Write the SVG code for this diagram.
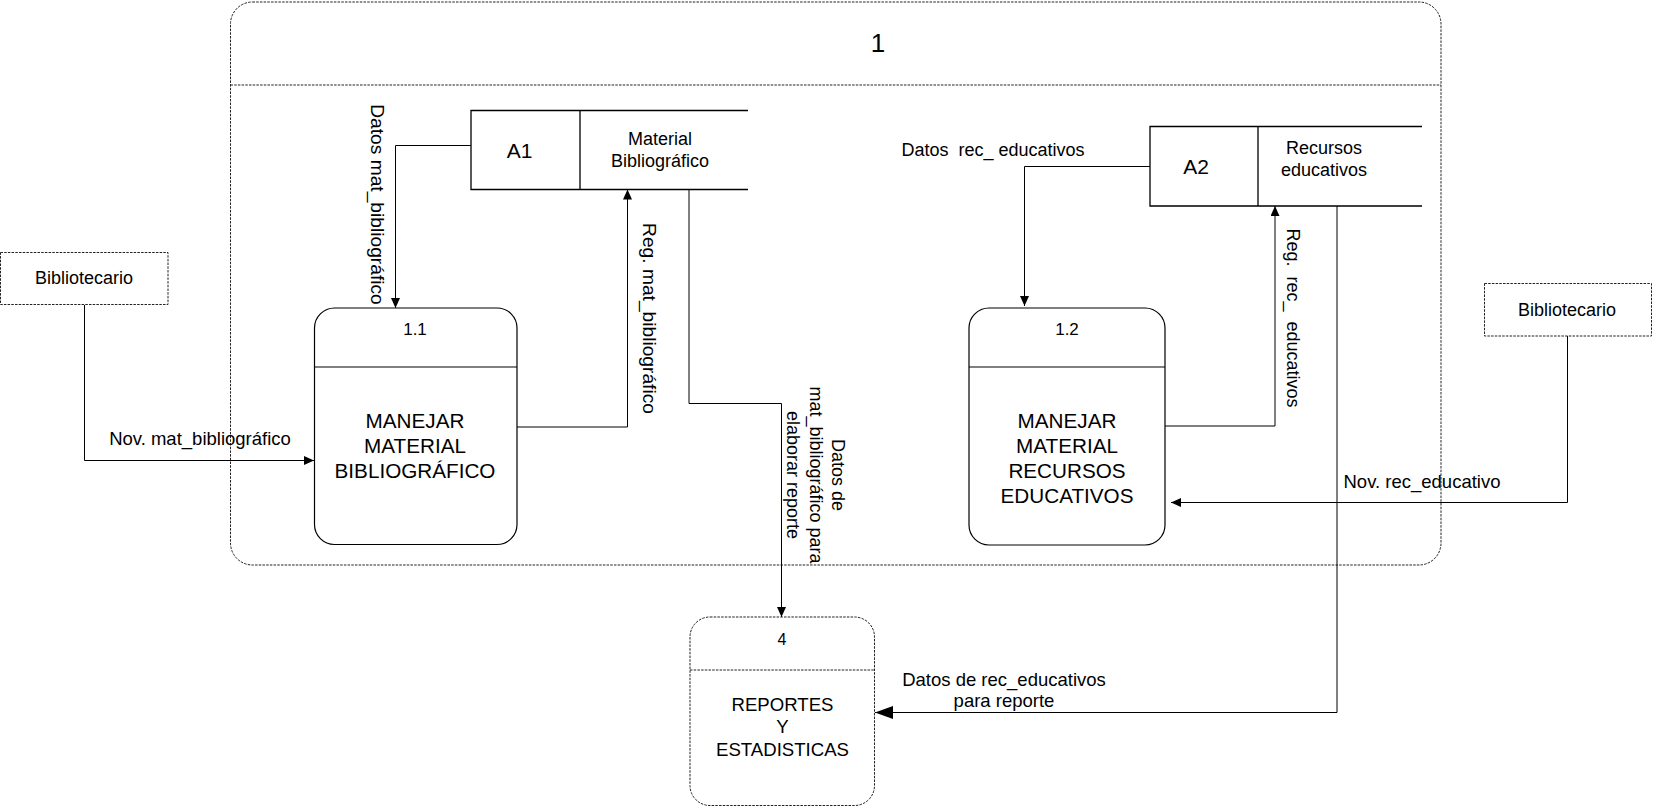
<svg xmlns="http://www.w3.org/2000/svg" width="1653" height="807" viewBox="0 0 1653 807">
<style>
text{font-family:"Liberation Sans",Arial,sans-serif;fill:#000}
.lbl{font-size:18px}
.lbl185{font-size:18.5px}
.lblv{font-size:19.2px}
.mid{text-anchor:middle}
.pre{white-space:pre}
.dash{fill:#fff;stroke:#222;stroke-width:1;stroke-dasharray:2.5,1.2}
.dashline{fill:none;stroke:#222;stroke-width:1;stroke-dasharray:2.5,1.2}
.proc{fill:#fff;stroke:#000;stroke-width:1.2}
.store{fill:none;stroke:#000;stroke-width:1.3}
.conn{fill:none;stroke:#000;stroke-width:1}
.big{font-size:20.7px}
.p4{font-size:18.6px}
</style>
<defs>
<marker id="arr" markerUnits="userSpaceOnUse" markerWidth="12" markerHeight="10" refX="10" refY="4.5" orient="auto">
<path d="M0,0 L10,4.5 L0,9 Z" fill="#000"/>
</marker>
<marker id="arrBig" markerUnits="userSpaceOnUse" markerWidth="20" markerHeight="14" refX="18" refY="6.5" orient="auto">
<path d="M0,0 L18,6.5 L0,13 Z" fill="#000"/>
</marker>
</defs>
<rect width="1653" height="807" fill="#fff"/>

<g id="container-1">
<rect class="dash" x="230.5" y="2" width="1210.5" height="563" rx="22" ry="22"/>
<line class="dashline" x1="230.5" y1="85" x2="1441" y2="85"/>
<text x="878" y="52" class="mid" font-size="26">1</text>
</g>

<g id="connectors">
<path class="conn" d="M84.5 305 V460.5 H314" marker-end="url(#arr)"/>
<path class="conn" d="M471 145.5 H395.5 V308" marker-end="url(#arr)"/>
<path class="conn" d="M517 427 H627.5 V189.5" marker-end="url(#arr)"/>
<path class="conn" d="M689 189.5 V403.5 H781.5 V617" marker-end="url(#arr)"/>
<path class="conn" d="M1150 166.5 H1024.5 V306" marker-end="url(#arr)"/>
<path class="conn" d="M1165 426 H1275 V206" marker-end="url(#arr)"/>
<path class="conn" d="M1337 206 V712.5 H875" marker-end="url(#arrBig)"/>
<path class="conn" d="M1567.5 336 V502.5 H1171" marker-end="url(#arr)"/>
<text class="lbl185 mid" x="200" y="445">Nov. mat_bibliográfico</text>
<text class="lblv mid" transform="translate(371,204.5) rotate(90)">Datos mat_bibliográfico</text>
<text class="lblv mid" transform="translate(643,318.5) rotate(90)">Reg. mat_bibliográfico</text>
<text class="lbl mid" transform="translate(832,475) rotate(90)"><tspan x="0" y="0">Datos de</tspan><tspan x="0" y="22.5">mat_bibliográfico para</tspan><tspan x="0" y="45">elaborar reporte</tspan></text>
<text class="lbl mid pre" x="993" y="156">Datos  rec_ educativos</text>
<text class="lbl mid pre" transform="translate(1287,318) rotate(90)">Reg.  rec_  educativos</text>
<text class="lbl185 mid" x="1422" y="488">Nov. rec_educativo</text>
<text class="lbl185 mid" x="1004" y="686">Datos de rec_educativos</text>
<text class="lbl185 mid" x="1004" y="707">para reporte</text>
</g>

<g id="ext-bibliotecario-1">
<rect class="dash" x="0.5" y="252.5" width="167.5" height="52"/>
<text class="lbl mid" x="84" y="284">Bibliotecario</text>
</g>

<g id="ext-bibliotecario-2">
<rect class="dash" x="1484.5" y="283.5" width="167" height="52.5"/>
<text class="lbl mid" x="1567" y="316">Bibliotecario</text>
</g>

<g id="store-A1">
<path class="store" d="M748 110.5 H471 V189.5 H748 M580 110.5 V189.5"/>
<text x="519.5" y="157.5" class="mid" font-size="21">A1</text>
<text class="lbl mid" x="660" y="145">Material</text>
<text class="lbl mid" x="660" y="166.5">Bibliográfico</text>
</g>

<g id="store-A2">
<path class="store" d="M1422 126.5 H1150 V206 H1422 M1258 126.5 V206"/>
<text x="1196" y="174" class="mid" font-size="21">A2</text>
<text class="lbl mid" x="1324" y="154">Recursos</text>
<text class="lbl mid" x="1324" y="176">educativos</text>
</g>

<g id="proc-1-1">
<rect class="proc" x="314.5" y="308" width="202.5" height="236.5" rx="20" ry="20"/>
<line class="proc" x1="314.5" y1="367" x2="517" y2="367"/>
<text x="415" y="335" class="mid" font-size="17">1.1</text>
<text class="big mid" x="415" y="428">MANEJAR</text>
<text class="big mid" x="415" y="453">MATERIAL</text>
<text class="big mid" x="415" y="478">BIBLIOGRÁFICO</text>
</g>

<g id="proc-1-2">
<rect class="proc" x="969" y="308" width="196" height="237" rx="20" ry="20"/>
<line class="proc" x1="969" y1="367" x2="1165" y2="367"/>
<text x="1067" y="335" class="mid" font-size="17">1.2</text>
<text class="big mid" x="1067" y="428">MANEJAR</text>
<text class="big mid" x="1067" y="453">MATERIAL</text>
<text class="big mid" x="1067" y="478">RECURSOS</text>
<text class="big mid" x="1067" y="503">EDUCATIVOS</text>
</g>

<g id="proc-4">
<rect class="dash" x="690" y="617" width="184.5" height="188.5" rx="20" ry="20"/>
<line class="dashline" x1="690" y1="670" x2="874.5" y2="670"/>
<text x="782" y="645" class="mid" font-size="16">4</text>
<text class="p4 mid" x="782.5" y="711">REPORTES</text>
<text class="p4 mid" x="782.5" y="733">Y</text>
<text class="p4 mid" x="782.5" y="756">ESTADISTICAS</text>
</g>
</svg>
